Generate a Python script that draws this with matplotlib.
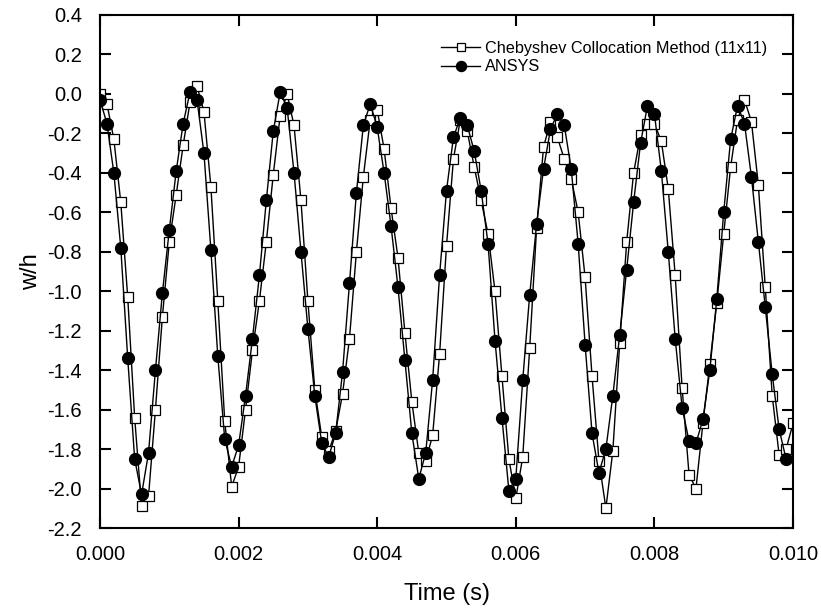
import numpy as np
import matplotlib
matplotlib.use("Agg")
import matplotlib.pyplot as plt
from matplotlib.ticker import FormatStrFormatter

plt.rcParams["font.family"] = ["Liberation Sans", "DejaVu Sans"]
plt.rcParams["axes.unicode_minus"] = False

# time samples, one every 0.1 ms
time_cheb = np.arange(101) * 1e-4
time_ansys = np.arange(100) * 1e-4

# Chebyshev Collocation Method (11x11), w/h
w_cheb = [
    0.00, -0.05, -0.23, -0.55, -1.03, -1.64, -2.09, -2.04, -1.60, -1.13,
    -0.75, -0.51, -0.26, -0.04, 0.04, -0.09, -0.47, -1.05, -1.66, -1.99,
    -1.89, -1.60, -1.30, -1.05, -0.75, -0.41, -0.11, 0.00, -0.16, -0.54,
    -1.05, -1.50, -1.74, -1.81, -1.71, -1.52, -1.24, -0.80, -0.42, -0.13,
    -0.08, -0.28, -0.58, -0.83, -1.21, -1.56, -1.82, -1.86, -1.73, -1.32,
    -0.77, -0.33, -0.13, -0.19, -0.37, -0.54, -0.71, -1.00, -1.43, -1.85,
    -2.05, -1.84, -1.29, -0.68, -0.27, -0.14, -0.22, -0.33, -0.43, -0.60,
    -0.93, -1.43, -1.86, -2.10, -1.81, -1.26, -0.75, -0.40, -0.21, -0.15,
    -0.15, -0.24, -0.48, -0.92, -1.49, -1.93, -2.00, -1.67, -1.37, -1.06,
    -0.71, -0.37, -0.13, -0.03, -0.14, -0.46, -0.98, -1.53, -1.83, -1.80,
    -1.67,
]

# ANSYS, w/h
w_ansys = [
    -0.03, -0.15, -0.40, -0.78, -1.34, -1.85, -2.03, -1.82, -1.40, -1.01,
    -0.69, -0.39, -0.15, 0.01, -0.03, -0.30, -0.79, -1.33, -1.75, -1.89,
    -1.78, -1.53, -1.24, -0.92, -0.54, -0.19, 0.01, -0.07, -0.40, -0.80,
    -1.19, -1.53, -1.77, -1.84, -1.72, -1.41, -0.96, -0.50, -0.16, -0.05,
    -0.17, -0.40, -0.67, -0.98, -1.35, -1.72, -1.95, -1.82, -1.45, -0.92,
    -0.49, -0.22, -0.12, -0.16, -0.29, -0.49, -0.76, -1.25, -1.64, -2.01,
    -1.95, -1.45, -1.02, -0.66, -0.38, -0.18, -0.10, -0.16, -0.38, -0.76,
    -1.27, -1.72, -1.92, -1.80, -1.53, -1.22, -0.89, -0.55, -0.25, -0.06,
    -0.10, -0.39, -0.80, -1.24, -1.59, -1.76, -1.77, -1.65, -1.40, -1.04,
    -0.60, -0.23, -0.06, -0.15, -0.42, -0.75, -1.08, -1.42, -1.70, -1.85,
]

x_ticks = [0.000, 0.002, 0.004, 0.006, 0.008, 0.010]
y_ticks = np.round(np.arange(-2.2, 0.41, 0.2), 1)

fig = plt.figure(figsize=(8.21, 6.12), dpi=100)
ax = fig.add_axes([100 / 821, 1 - 528 / 612, 693 / 821, 513 / 612])

ax.plot(time_cheb, w_cheb, color="black", linewidth=1.0, marker="s",
        markersize=7, markerfacecolor="white", markeredgecolor="black",
        markeredgewidth=0.9, label="Chebyshev Collocation Method (11x11)")
ax.plot(time_ansys, w_ansys, color="black", linewidth=1.0, marker="o",
        markersize=8.5, markerfacecolor="black", markeredgecolor="black",
        label="ANSYS")

ax.set_xlim(0.0, 0.010)
ax.set_ylim(-2.2, 0.4)
ax.set_xticks(x_ticks)
ax.set_yticks(y_ticks)
ax.xaxis.set_major_formatter(FormatStrFormatter("%.3f"))
ax.yaxis.set_major_formatter(FormatStrFormatter("%.1f"))
ax.tick_params(direction="in", length=8, width=1.5, labelsize=14.5,
               top=True, right=True)
ax.tick_params(axis="x", pad=12)
ax.tick_params(axis="y", pad=13)
for spine in ax.spines.values():
    spine.set_linewidth(1.5)

ax.set_xlabel("Time (s)", fontsize=17, labelpad=14)
ax.set_ylabel("w/h", fontsize=17, labelpad=4)

ax.legend(loc="upper left", bbox_to_anchor=(441 / 821, 1 - 41 / 612),
          bbox_transform=fig.transFigure, frameon=False, fontsize=11.7,
          handlelength=2.4, handletextpad=0.3, labelspacing=0.2,
          borderpad=0, borderaxespad=0, markerscale=0.85)

fig.savefig("out.png", dpi=100)
